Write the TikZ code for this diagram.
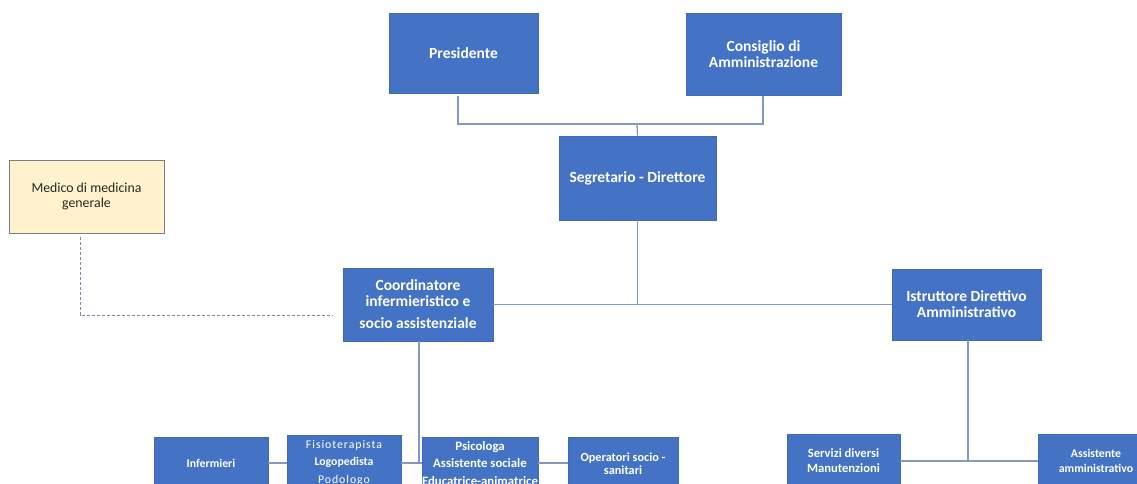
\documentclass[tikz,border=0pt]{standalone}
\usepackage{fontspec}
\setmainfont{Carlito}
\definecolor{boxblue}{HTML}{4472C4}
\definecolor{boxedge}{HTML}{3F69B5}
\definecolor{linecol}{HTML}{8499BF}
\definecolor{medfill}{HTML}{FFF2CC}
\definecolor{mededge}{HTML}{7F7F7F}
\definecolor{dashcol}{HTML}{7D8AA6}
\begin{document}
\begin{tikzpicture}[x=1pt,y=-1pt,
  box/.style={draw=boxedge,line width=0.6pt,fill=boxblue,text=white,font=\fontsize{15.5}{16}\selectfont\bfseries,align=center,inner sep=0pt},
  sbox/.style={box,font=\fontsize{11.8}{17.5}\selectfont\bfseries},
  medbox/.style={draw=mededge,line width=0.8pt,fill=medfill,text=black!85,font=\fontsize{13.8}{15.5}\selectfont,align=center,inner sep=0pt},
  conn/.style={draw=linecol,line width=1.3pt},
  dconn/.style={draw=dashcol,line width=0.9pt,dash pattern=on 3pt off 2pt}]
\useasboundingbox (0,0) rectangle (1137,484);
\clip (0,0) rectangle (1137,484);
\fill[white] (0,0) rectangle (1137,484);
% top
\node[box,minimum width=149pt,minimum height=80pt] (pres) at (463.5,53) {Presidente};
\node[box,minimum width=155pt,minimum height=82pt] (cons) at (763.5,54) {Consiglio di\\Amministrazione};
\node[box,minimum width=157pt,minimum height=84pt] (seg) at (637.5,178) {Segretario - Direttore};
\node[medbox,minimum width=155pt,minimum height=73pt] (med) at (86.5,196.5) {Medico di medicina\\generale};
\node[box,minimum width=150pt,minimum height=73pt] (coord) at (418,304.5) {Coordinatore\\infermieristico e\\[6pt]socio assistenziale};
\node[box,minimum width=149pt,minimum height=71pt] (ist) at (966.5,304.5) {Istruttore Direttivo\\Amministrativo};
% bottom
\node[sbox,minimum width=114pt,minimum height=53pt] (inf) at (211,463.5) {Infermieri};
\node[sbox,minimum width=114pt,minimum height=55pt] (fis) at (344,462.5) {{\mdseries\addfontfeature{LetterSpace=8}Fisioterapista}\\Logopedista\\{\mdseries\addfontfeature{LetterSpace=8}Podologo}};
\node[sbox,minimum width=114pt,minimum height=53pt,font=\fontsize{12.8}{17.5}\selectfont\bfseries] (psi) at (480,463.5) {Psicologa\\Assistente sociale\\Educatrice-animatrice};
\node[sbox,minimum width=110pt,minimum height=53pt,font=\fontsize{12.3}{12.5}\selectfont\bfseries] (oss) at (623,463.5) {Operatori socio -\\sanitari};
\node[sbox,minimum width=113pt,minimum height=54pt,font=\fontsize{12.6}{15}\selectfont\bfseries] (serv) at (843.5,461) {Servizi diversi\\Manutenzioni};
\node[sbox,minimum width=116pt,minimum height=54pt,font=\fontsize{11.8}{15}\selectfont\bfseries] (ass) at (1096,461) {Assistente\\amministrativo};
% connectors
\coordinate (bus) at (637,124);
\draw[conn] ([xshift=-5.5pt,yshift=-3pt]pres.south) |- (bus) -| ([xshift=-0.5pt,yshift=-1pt]cons.south);
\draw[conn] (bus) -- (seg.north);
\draw[conn] (seg.south) -- (seg.south |- coord.east);
\draw[conn] (coord.east) -- (ist.west);
\draw[dconn] ([xshift=-6.5pt,yshift=-4pt]med.south) |- (333,315) coordinate (dend);
\coordinate (cj) at (419,463);
\draw[conn] ([xshift=1pt]coord.south) -- (cj);
\draw[conn] (fis.east |- cj) -- (psi.west |- cj);
\draw[conn] (inf.east |- cj) -- (fis.west |- cj);
\draw[conn] (psi.east |- cj) -- (oss.west |- cj);
\coordinate (ij) at (968,461);
\draw[conn] ([xshift=1.5pt]ist.south) -- (ij);
\draw[conn] (serv.east) -- (ass.west);
\end{tikzpicture}
\end{document}
